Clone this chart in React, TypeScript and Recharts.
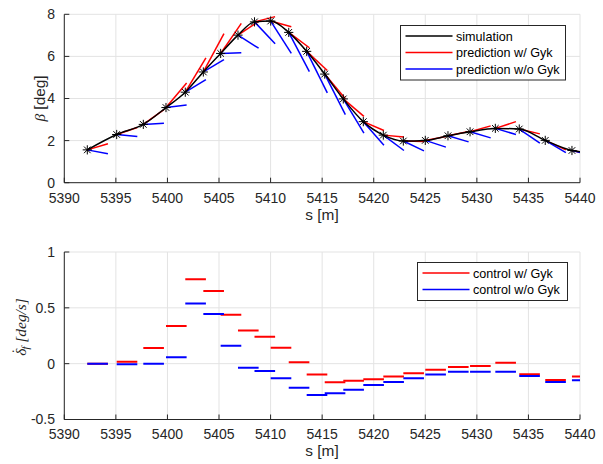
import { CartesianGrid, Line, LineChart, XAxis, YAxis } from "recharts";

// sample points along the path (where the predictions start)
const sampleS = [
  5392.23, 5395.08, 5397.66, 5399.86, 5401.73, 5403.48, 5405.16, 5406.84, 5408.44, 5410.01, 5411.76, 5413.5,
  5415.25, 5417.05, 5418.99, 5420.93, 5422.87, 5425.0, 5427.2, 5429.34, 5431.79, 5434.11, 5436.63, 5439.22,
];
const simBeta = [
  1.56, 2.29, 2.77, 3.57, 4.3, 5.26, 6.14, 7.01, 7.64, 7.68, 7.14, 6.24, 5.16, 3.98, 2.9, 2.26, 1.98, 2.01, 2.23,
  2.42, 2.58, 2.55, 2.01, 1.53,
];
const simTailS = 5440;
const simTailBeta = 1.47;

// beta at the end of each prediction horizon
const predRedEnd = [
  1.85, 2.62, 3.47, 4.74, 5.93, 7.08, 7.57, 7.66, 7.89, 7.41, 6.41, 5.33, 3.99, 3.15, 2.48, 2.17, 1.96, 2.19, 2.43,
  2.7, 2.9, 2.32, 1.56, 1.33,
];
const predBlueEnd = [
  1.37, 2.19, 2.82, 3.69, 4.9, 5.85, 6.17, 6.39, 6.6, 6.14, 5.28, 4.27, 3.23, 2.36, 1.78, 1.53, 1.51, 1.69, 1.94,
  2.13, 2.29, 1.88, 1.43, 1.3,
];

// steering rate held over each step
const ctrlRed = [
  0, 0.018, 0.14, 0.338, 0.756, 0.651, 0.439, 0.296, 0.242, 0.143, 0.013, -0.098, -0.167, -0.152, -0.14, -0.116,
  -0.086, -0.054, -0.03, -0.021, 0.009, -0.095, -0.146, -0.116,
];
const ctrlBlue = [
  0, -0.006, 0, 0.057, 0.538, 0.445, 0.161, -0.036, -0.065, -0.131, -0.215, -0.28, -0.265, -0.233, -0.191, -0.164,
  -0.131, -0.098, -0.072, -0.072, -0.072, -0.11, -0.164, -0.149,
];

const HORIZON = 2;
const xTicks = [5390, 5395, 5400, 5405, 5410, 5415, 5420, 5425, 5430, 5435, 5440];
const betaTicks = [0, 2, 4, 6, 8];
const rateTicks = [-0.5, 0, 0.5, 1];

const FONT = '"Liberation Sans", Arial, Helvetica, sans-serif';
const SERIF = '"Liberation Serif", "DejaVu Serif", serif';
const AXIS = "#262626";
const GRID = "#e3e3e3";
const RED = "#ff0000";
const BLUE = "#0000ff";

const tickStyle = { fill: AXIS, fontSize: 14, fontFamily: FONT };

const simData = [
  ...sampleS.map((s, i) => ({ s, v: simBeta[i] })),
  { s: simTailS, v: simTailBeta },
];

const predSegment = (i: number, end: number) => [
  { s: sampleS[i], v: simBeta[i] },
  { s: sampleS[i] + HORIZON, v: end },
];

const ctrlSegment = (i: number, value: number) => [
  { s: sampleS[i], v: value },
  { s: sampleS[i] + HORIZON, v: value },
];

function AsteriskDot(props: any) {
  const { cx, cy, index } = props;
  if (index >= sampleS.length || cx == null) return <g key={`st-${index}`} />;
  const r = 4.6;
  const d = r * 0.72;
  return (
    <g key={`st-${index}`} stroke="#000" strokeWidth={1}>
      <line x1={cx - r} y1={cy} x2={cx + r} y2={cy} />
      <line x1={cx} y1={cy - r} x2={cx} y2={cy + r} />
      <line x1={cx - d} y1={cy - d} x2={cx + d} y2={cy + d} />
      <line x1={cx - d} y1={cy + d} x2={cx + d} y2={cy - d} />
    </g>
  );
}

function LegendBox({
  left,
  top,
  width,
  items,
}: {
  left: number;
  top: number;
  width: number;
  items: { label: string; color: string }[];
}) {
  const rowH = 16.5;
  const height = items.length * rowH + 5;
  return (
    <svg
      width={width + 2}
      height={height + 2}
      style={{ position: "absolute", left, top }}
    >
      <rect x={0.5} y={0.5} width={width} height={height} fill="#fff" stroke={AXIS} strokeWidth={1} />
      {items.map((it, i) => {
        const y = 11 + i * rowH;
        return (
          <g key={it.label}>
            <line x1={5.5} x2={52.5} y1={y} y2={y} stroke={it.color} strokeWidth={1.5} />
            <text x={56} y={y + 4.5} fontSize={12.6} fontFamily={FONT} fill="#000">
              {it.label}
            </text>
          </g>
        );
      })}
    </svg>
  );
}

const xLabel = (y: number) => () =>
  (
    <text x={322} y={y} textAnchor="middle" fontSize={15.4} fontFamily={FONT} fill={AXIS}>
      s [m]
    </text>
  );

export default function App() {
  return (
    <div style={{ position: "absolute", left: 0, top: 0, width: 603, height: 464, background: "#fff" }}>
      <div style={{ position: "absolute", left: 0, top: 0 }}>
        <LineChart width={603} height={237} margin={{ top: 14.3, right: 23, bottom: 24.3, left: 24.3 }}>
          <CartesianGrid stroke={GRID} />
          <XAxis
            type="number"
            dataKey="s"
            domain={[5390, 5440]}
            ticks={xTicks}
            allowDataOverflow
            height={30}
            stroke={AXIS}
            tick={tickStyle}
            tickSize={-5}
            tickMargin={15}
            label={xLabel(219.5)}
          />
          <YAxis
            type="number"
            domain={[0, 8]}
            ticks={betaTicks}
            allowDataOverflow
            width={40}
            stroke={AXIS}
            tick={tickStyle}
            tickSize={-5}
            tickMargin={14.3}
            label={() => (
              <text
                transform="rotate(-90, 45, 98.5)"
                x={45}
                y={98.5}
                textAnchor="middle"
                fontSize={15.4}
                fontFamily={FONT}
                fill={AXIS}
              >
                <tspan fontFamily={SERIF} fontStyle="italic">
                  β
                </tspan>
                <tspan> [deg]</tspan>
              </text>
            )}
          />
          {predRedEnd.map((end, i) => (
            <Line
              key={`pr-${i}`}
              data={predSegment(i, end)}
              dataKey="v"
              stroke={RED}
              strokeWidth={1.5}
              dot={false}
              isAnimationActive={false}
            />
          ))}
          {predBlueEnd.map((end, i) => (
            <Line
              key={`pb-${i}`}
              data={predSegment(i, end)}
              dataKey="v"
              stroke={BLUE}
              strokeWidth={1.5}
              dot={false}
              isAnimationActive={false}
            />
          ))}
          <Line
            data={simData}
            dataKey="v"
            type="monotone"
            stroke="#000"
            strokeWidth={1.5}
            dot={AsteriskDot}
            isAnimationActive={false}
          />
        </LineChart>
      </div>
      <LegendBox
        left={400}
        top={24.5}
        width={165}
        items={[
          { label: "simulation", color: "#000" },
          { label: "prediction w/ Gyk", color: RED },
          { label: "prediction w/o Gyk", color: BLUE },
        ]}
      />

      <div style={{ position: "absolute", left: 0, top: 237 }}>
        <LineChart width={603} height={227} margin={{ top: 15, right: 23, bottom: 14.5, left: 24.3 }}>
          <CartesianGrid stroke={GRID} />
          <XAxis
            type="number"
            dataKey="s"
            domain={[5390, 5440]}
            ticks={xTicks}
            allowDataOverflow
            height={30}
            stroke={AXIS}
            tick={tickStyle}
            tickSize={-5}
            tickMargin={15}
            label={xLabel(219.3)}
          />
          <YAxis
            type="number"
            domain={[-0.5, 1]}
            ticks={rateTicks}
            allowDataOverflow
            width={40}
            stroke={AXIS}
            tick={tickStyle}
            tickSize={-5}
            tickMargin={14.3}
            label={() => (
              <text
                transform="rotate(-90, 26, 90)"
                x={26}
                y={90}
                textAnchor="middle"
                fontSize={15.4}
                fontFamily={SERIF}
                fontStyle="italic"
                fill={AXIS}
              >
                <tspan>δ</tspan>
                <tspan dx={-6} dy={-4}>
                  ˙
                </tspan>
                <tspan dx={0} dy={7} fontSize={11}>
                  f
                </tspan>
                <tspan dy={-3}> [deg/s]</tspan>
              </text>
            )}
          />
          {ctrlRed.map((v, i) => (
            <Line
              key={`cr-${i}`}
              data={ctrlSegment(i, v)}
              dataKey="v"
              stroke={RED}
              strokeWidth={2}
              dot={false}
              isAnimationActive={false}
            />
          ))}
          {ctrlBlue.map((v, i) => (
            <Line
              key={`cb-${i}`}
              data={ctrlSegment(i, v)}
              dataKey="v"
              stroke={BLUE}
              strokeWidth={2}
              dot={false}
              isAnimationActive={false}
            />
          ))}
        </LineChart>
      </div>
      <LegendBox
        left={416.5}
        top={261.5}
        width={150}
        items={[
          { label: "control w/ Gyk", color: RED },
          { label: "control w/o Gyk", color: BLUE },
        ]}
      />
    </div>
  );
}
